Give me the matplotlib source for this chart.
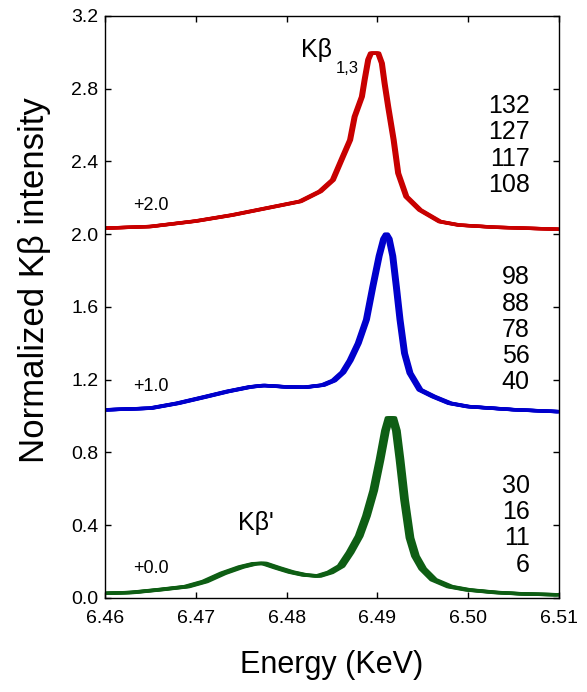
import numpy as np
import matplotlib
matplotlib.use("Agg")
from matplotlib import pyplot as plt

plt.rcParams["font.family"] = ["Liberation Sans", "DejaVu Sans"]

# Kbeta spectra, normalized, before vertical offset
green_energy = [6.4600, 6.4630, 6.4660, 6.4690, 6.4710, 6.4730, 6.4750, 6.4765,
                6.4775, 6.4790, 6.4805, 6.4820, 6.4835, 6.4848, 6.4860, 6.4870,
                6.4880, 6.4888, 6.4896, 6.4903, 6.4909, 6.4913, 6.4917, 6.4921,
                6.4925, 6.4930, 6.4936, 6.4942, 6.4950, 6.4962, 6.4980, 6.5000,
                6.5030, 6.5060, 6.5100]
green_int = [0.025, 0.030, 0.045, 0.062, 0.090, 0.135, 0.170, 0.188,
             0.190, 0.165, 0.142, 0.126, 0.120, 0.140, 0.175, 0.250,
             0.340, 0.450, 0.590, 0.760, 0.920, 0.990, 0.990, 0.920,
             0.760, 0.540, 0.330, 0.230, 0.160, 0.100, 0.062, 0.044,
             0.030, 0.022, 0.017]

blue_energy = [6.4600, 6.4650, 6.4680, 6.4710, 6.4735, 6.4760, 6.4775, 6.4800,
               6.4820, 6.4840, 6.4852, 6.4862, 6.4870, 6.4879, 6.4888, 6.4895,
               6.4902, 6.4907, 6.4910, 6.4913, 6.4917, 6.4921, 6.4925, 6.4930,
               6.4936, 6.4947, 6.4962, 6.4980, 6.5000, 6.5050, 6.5100]
blue_int = [0.034, 0.043, 0.070, 0.105, 0.135, 0.160, 0.168, 0.160,
            0.158, 0.170, 0.195, 0.240, 0.305, 0.400, 0.530, 0.710,
            0.880, 0.975, 1.000, 0.975, 0.880, 0.710, 0.530, 0.345,
            0.236, 0.144, 0.107, 0.070, 0.052, 0.035, 0.024]

red_energy = [6.4600, 6.4650, 6.4700, 6.4740, 6.4770, 6.4795, 6.4815, 6.4837,
              6.4851, 6.4862, 6.4870, 6.4875, 6.4883, 6.4886, 6.4890, 6.4893,
              6.4901, 6.4905, 6.4908, 6.4912, 6.4918, 6.4923, 6.4932, 6.4947,
              6.4969, 6.4990, 6.5030, 6.5100]
red_int = [0.033, 0.042, 0.072, 0.105, 0.135, 0.160, 0.180, 0.235,
           0.298, 0.426, 0.518, 0.646, 0.756, 0.848, 0.960, 0.995,
           0.995, 0.940, 0.830, 0.700, 0.518, 0.335, 0.206, 0.133,
           0.069, 0.050, 0.038, 0.027]

# per-curve energy shifts and pressure labels for each group
green_shift = [-0.0003, -0.0001, 0.0001, 0.0003]
blue_shift = [-0.0002, -0.0001, 0.0, 0.0001, 0.0002]
red_shift = [-0.00015, -0.00005, 0.00005, 0.00015]
green_labels = ["30", "16", "11", "6"]
blue_labels = ["98", "88", "78", "56", "40"]
red_labels = ["132", "127", "117", "108"]
offsets = [0.0, 1.0, 2.0]

groups = [
    (green_energy, green_int, green_shift, green_labels, offsets[0], "#0e5e14"),
    (blue_energy, blue_int, blue_shift, blue_labels, offsets[1], "#0000cc"),
    (red_energy, red_int, red_shift, red_labels, offsets[2], "#c80000"),
]

fig = plt.figure(figsize=(5.87, 6.92), dpi=100)
ax = fig.add_axes((0.179, 0.136, 0.773, 0.841))

label_y = [0.399, 1.474, 2.488]
for (en, it, shifts, labels, off, col), ly in zip(groups, label_y):
    for s in shifts:
        ax.plot(np.array(en) + s, np.array(it) + off, color=col, lw=2.4,
                solid_capstyle="round", solid_joinstyle="round")
    ax.text(6.4631, off + 0.16, f"+{off:.1f}", fontsize=13, ha="left",
            va="center")
    ax.text(6.5068, ly, "\n".join(labels), fontsize=18, ha="right",
            va="center", linespacing=1.12)

ax.text(6.4833, 3.013, "Kβ", fontsize=18, ha="center", va="center")
ax.text(6.48666, 2.909, "1,3", fontsize=12, ha="center", va="center")
ax.text(6.4766, 0.412, "Kβ'", fontsize=18, ha="center", va="center")

ax.set_xlim(6.46, 6.51)
ax.set_ylim(0, 3.2)
ax.set_xticks(np.arange(6.46, 6.5101, 0.01))
ax.set_yticks(np.arange(0, 3.21, 0.4))
ax.xaxis.set_major_formatter(matplotlib.ticker.FormatStrFormatter("%.2f"))
ax.yaxis.set_major_formatter(matplotlib.ticker.FormatStrFormatter("%.1f"))
ax.tick_params(direction="in", length=4, width=1, top=True, right=True,
               labelsize=14)
ax.tick_params(axis="x", pad=9)
ax.tick_params(axis="y", pad=5)
for sp in ax.spines.values():
    sp.set_linewidth(1)

ax.set_xlabel("Energy (KeV)", fontsize=22)
ax.set_ylabel("Normalized Kβ intensity", fontsize=25)
ax.xaxis.set_label_coords(0.5, -0.09)
ax.yaxis.set_label_coords(-0.12, 0.546)

fig.savefig("out.png", dpi=100)
